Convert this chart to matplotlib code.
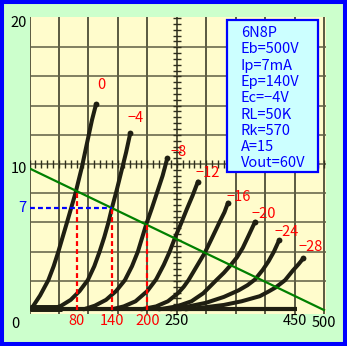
import numpy as np
import matplotlib
matplotlib.use('Agg')
import matplotlib.pyplot as plt
from matplotlib.patches import Rectangle

# plate characteristics, plate volts vs plate mA, one list per grid voltage
grid_volts = [0, -4, -8, -12, -16, -20, -24, -28]
plate_v = [
    [0, 5, 18, 32, 41, 49, 64, 78, 89, 98, 106, 113],
    [38, 54, 70, 85, 99, 110, 119, 127, 134, 140, 148, 156, 164, 171],
    [92, 111, 130, 147, 162, 174, 184, 198, 208, 217, 226, 234],
    [140, 160, 180, 200, 215, 228, 238, 247, 257, 267, 277, 286],
    [190, 215, 235, 252, 262, 270, 284, 298, 310, 323, 331, 337],
    [220, 250, 275, 295, 316, 330, 341, 352, 362, 372, 383],
    [240, 270, 300, 330, 355, 370, 383, 396, 406, 415, 424],
    [265, 300, 330, 360, 391, 405, 418, 434, 447, 457, 465],
]
plate_ma = [
    [0.05, 0.2, 1.0, 2.05, 3.0, 4.0, 6.05, 8.0, 9.8, 11.5, 13.0, 14.1],
    [0.05, 0.3, 0.7, 1.3, 2.05, 3.0, 4.0, 5.0, 6.0, 7.0, 8.2, 9.5, 10.8, 12.1],
    [0.05, 0.3, 0.7, 1.3, 2.05, 3.0, 4.0, 5.85, 7.0, 8.1, 9.2, 10.4],
    [0.05, 0.25, 0.6, 1.3, 2.1, 3.1, 4.0, 4.95, 5.9, 6.9, 7.85, 8.8],
    [0.05, 0.25, 0.6, 1.15, 1.6, 2.05, 3.0, 3.95, 4.95, 6.05, 6.7, 7.35],
    [0.05, 0.25, 0.6, 1.15, 2.0, 2.55, 3.05, 3.6, 4.25, 5.1, 6.05],
    [0.05, 0.25, 0.5, 0.9, 1.35, 1.7, 2.1, 2.75, 3.35, 4.0, 4.8],
    [0.05, 0.2, 0.35, 0.6, 0.95, 1.25, 1.55, 2.05, 2.7, 3.15, 3.55],
]

# load line and operating points
load_v = [0, 500]
load_ma = [9.7, 0]
op_volts = [80, 140, 200]
ip_ma = 7
ep_v = 140

x_labels = [250, 450, 500]
y_labels = [10, 20]

info = ['6N8P', 'Eb=500V', 'Ip=7mA', 'Ep=140V', 'Ec=\u22124V',
        'RL=50K', 'Rk=570', 'A=15', 'Vout=60V']

W, H = 347, 346
plt.rcParams['font.family'] = ['Noto Sans CJK JP', 'DejaVu Sans']
fs = 10.5

fig = plt.figure(figsize=(W / 100, H / 100), dpi=100)
fig.patch.set_facecolor('#ccffcc')

# paper area in pixels: left 29.5, right 326, top 17, bottom 314
ax = fig.add_axes([29.5 / W, 1 - 314 / H, (326 - 29.5) / W, (314 - 17) / H])
ax.set_xlim(0, 503.4)
ax.set_ylim(-0.27, 20.07)
ax.set_facecolor('#fffccc')
for s in ax.spines.values():
    s.set_visible(False)
ax.set_xticks([])
ax.set_yticks([])

for v in range(0, 501, 50):
    ax.axvline(v, color='#2e2e1c', lw=1.1, zorder=1)
for i in range(2, 19, 2):
    ax.axhline(i, color='#5e5e44', lw=1.1, zorder=1)

# small graduations on the 10 mA and 250 V lines
tick_col = '#2e2e1c'
tx = np.arange(0, 501, 10)
ax.plot(tx, np.full(len(tx), 10), linestyle='none', marker='|', ms=6,
        mew=1.0, color=tick_col, zorder=1)
ty = np.arange(0, 20.01, 0.4)
ax.plot(np.full(len(ty), 250), ty, linestyle='none', marker='_', ms=6,
        mew=1.0, color=tick_col, zorder=1)

# heavy base where the curves run together
curve_col = '#1f1f12'
ax.plot([0, 455], [0.05, 0.05], color=curve_col, lw=3.0, solid_capstyle='butt', zorder=3)
ax.plot([0, 55], [0.12, 0.12], color=curve_col, lw=5.0, solid_capstyle='butt', zorder=3)

for vs, ms in zip(plate_v, plate_ma):
    ax.plot(vs, ms, color=curve_col, lw=2.9, solid_capstyle='round',
            solid_joinstyle='round', zorder=3)
    ax.plot(vs[-1], ms[-1], 'o', ms=4.2, color=curve_col, mew=0, zorder=3)

# curve labels, offset from the end of each curve (pixels)
label_off = [(5, 19), (5, 15), (11, 6), (10, 9), (11, 6), (9, 8), (7, 8), (7, 11)]
for g, vs, ms, off in zip(grid_volts, plate_v, plate_ma, label_off):
    txt = '0' if g == 0 else '\u2212%d' % abs(g)
    ax.annotate(txt, (vs[-1], ms[-1]), xytext=(off[0] * 0.72, off[1] * 0.72),
                textcoords='offset points', ha='center', va='center',
                color='#ff0000', fontsize=fs, zorder=5)

# load line
ax.plot(load_v, load_ma, color='#008000', lw=1.6, zorder=4)

dash = (0, (2.2, 1.4))
for v in op_volts:
    top = load_ma[0] + (load_ma[1] - load_ma[0]) * (v - load_v[0]) / (load_v[1] - load_v[0])
    ax.plot([v, v], [0, top], color='#ff0000', lw=1.6, linestyle=dash, zorder=4)
ax.plot([0, ep_v], [ip_ma, ip_ma], color='#0000ff', lw=1.6, linestyle=dash, zorder=4)

# axis numbers
xt = ax.get_xaxis_transform()
yt = ax.get_yaxis_transform()
for v in op_volts:
    ax.text(v, -0.024, str(v), transform=xt, ha='center', va='center',
            color='#ff0000', fontsize=fs, clip_on=False)
for v in x_labels:
    ax.text(v, -0.03 if v == 500 else -0.024, str(v), transform=xt,
            ha='center', va='center', color='#000000', fontsize=fs, clip_on=False)
for v in y_labels:
    ax.text(-0.008, v - 0.33, str(v), transform=yt, ha='right', va='center',
            color='#000000', fontsize=fs, clip_on=False)
ax.text(-0.012, ip_ma, str(ip_ma), transform=yt, ha='right', va='center',
        color='#0000ff', fontsize=fs, clip_on=False)
ax.text(-0.0465, -0.034, '0', transform=ax.transAxes, ha='center', va='center',
        color='#000000', fontsize=fs, clip_on=False)

# data box
fig.add_artist(Rectangle((227 / W, 1 - 172 / H), 91 / W, 152 / H,
                         transform=fig.transFigure, facecolor='#ccffff',
                         edgecolor='#0000ff', lw=1.6, zorder=6))
for i, line in enumerate(info):
    fig.text(241 / W, 1 - (33 + 16.3 * i) / H, line, ha='left', va='center',
             color='#0000ff', fontsize=fs, zorder=7)

# outer frame
fig.add_artist(Rectangle((0, 0), 1, 1, transform=fig.transFigure, fill=False,
                         edgecolor='#0000ff', lw=5.8, zorder=8))

fig.savefig('out.png', dpi=100, facecolor=fig.get_facecolor())
